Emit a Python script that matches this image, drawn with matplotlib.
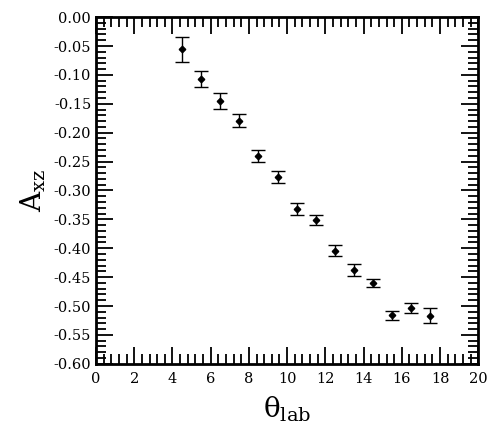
import matplotlib
matplotlib.use("Agg")
import matplotlib.pyplot as plt
from matplotlib.ticker import MultipleLocator

plt.rcParams['font.family'] = ['DejaVu Serif']
plt.rcParams['axes.unicode_minus'] = False

# measured asymmetry vs lab angle
theta = [4.5, 5.5, 6.5, 7.5, 8.5, 9.5, 10.5, 11.5, 12.5, 13.5, 14.5, 15.5, 16.5, 17.5]
axz = [-0.056, -0.107, -0.145, -0.179, -0.240, -0.277, -0.332, -0.351,
       -0.404, -0.438, -0.460, -0.516, -0.503, -0.517]
err = [0.021, 0.014, 0.014, 0.011, 0.010, 0.010, 0.010, 0.009,
       0.009, 0.010, 0.0075, 0.0075, 0.009, 0.013]

xticks = [0, 2, 4, 6, 8, 10, 12, 14, 16, 18, 20]
yticks = [0.0, -0.05, -0.10, -0.15, -0.20, -0.25, -0.30, -0.35, -0.40,
          -0.45, -0.50, -0.55, -0.60]

fig = plt.figure(figsize=(4.9, 4.28), dpi=100)
ax = fig.add_axes([0.196, 0.15, 0.78, 0.81])

ax.errorbar(theta, axz, yerr=err, fmt='D', color='black', ms=3.3,
            elinewidth=1, capsize=5, capthick=1)

ax.set_xlim(0, 20)
ax.set_ylim(-0.60, 0.0)
ax.set_xticks(xticks)
ax.set_xticklabels([str(t) for t in xticks])
ax.set_yticks(yticks)
ax.set_yticklabels(['%.2f' % v if v != 0 else '0.00' for v in yticks])
ax.xaxis.set_minor_locator(MultipleLocator(0.4))
ax.yaxis.set_minor_locator(MultipleLocator(0.01))

ax.tick_params(which='both', direction='in', top=True, right=True,
               labelsize=10.5, width=1.3)
ax.tick_params(which='major', length=12)
ax.tick_params(which='minor', length=7)
ax.tick_params(axis='x', pad=6)
for s in ax.spines.values():
    s.set_linewidth(2)

ax.set_xlabel(r'$\mathregular{\theta_{lab}}$', fontsize=20, labelpad=6)
ax.set_ylabel(r'$\mathregular{A_{xz}}$', fontsize=20, labelpad=4)

fig.savefig('out.png', dpi=100)
